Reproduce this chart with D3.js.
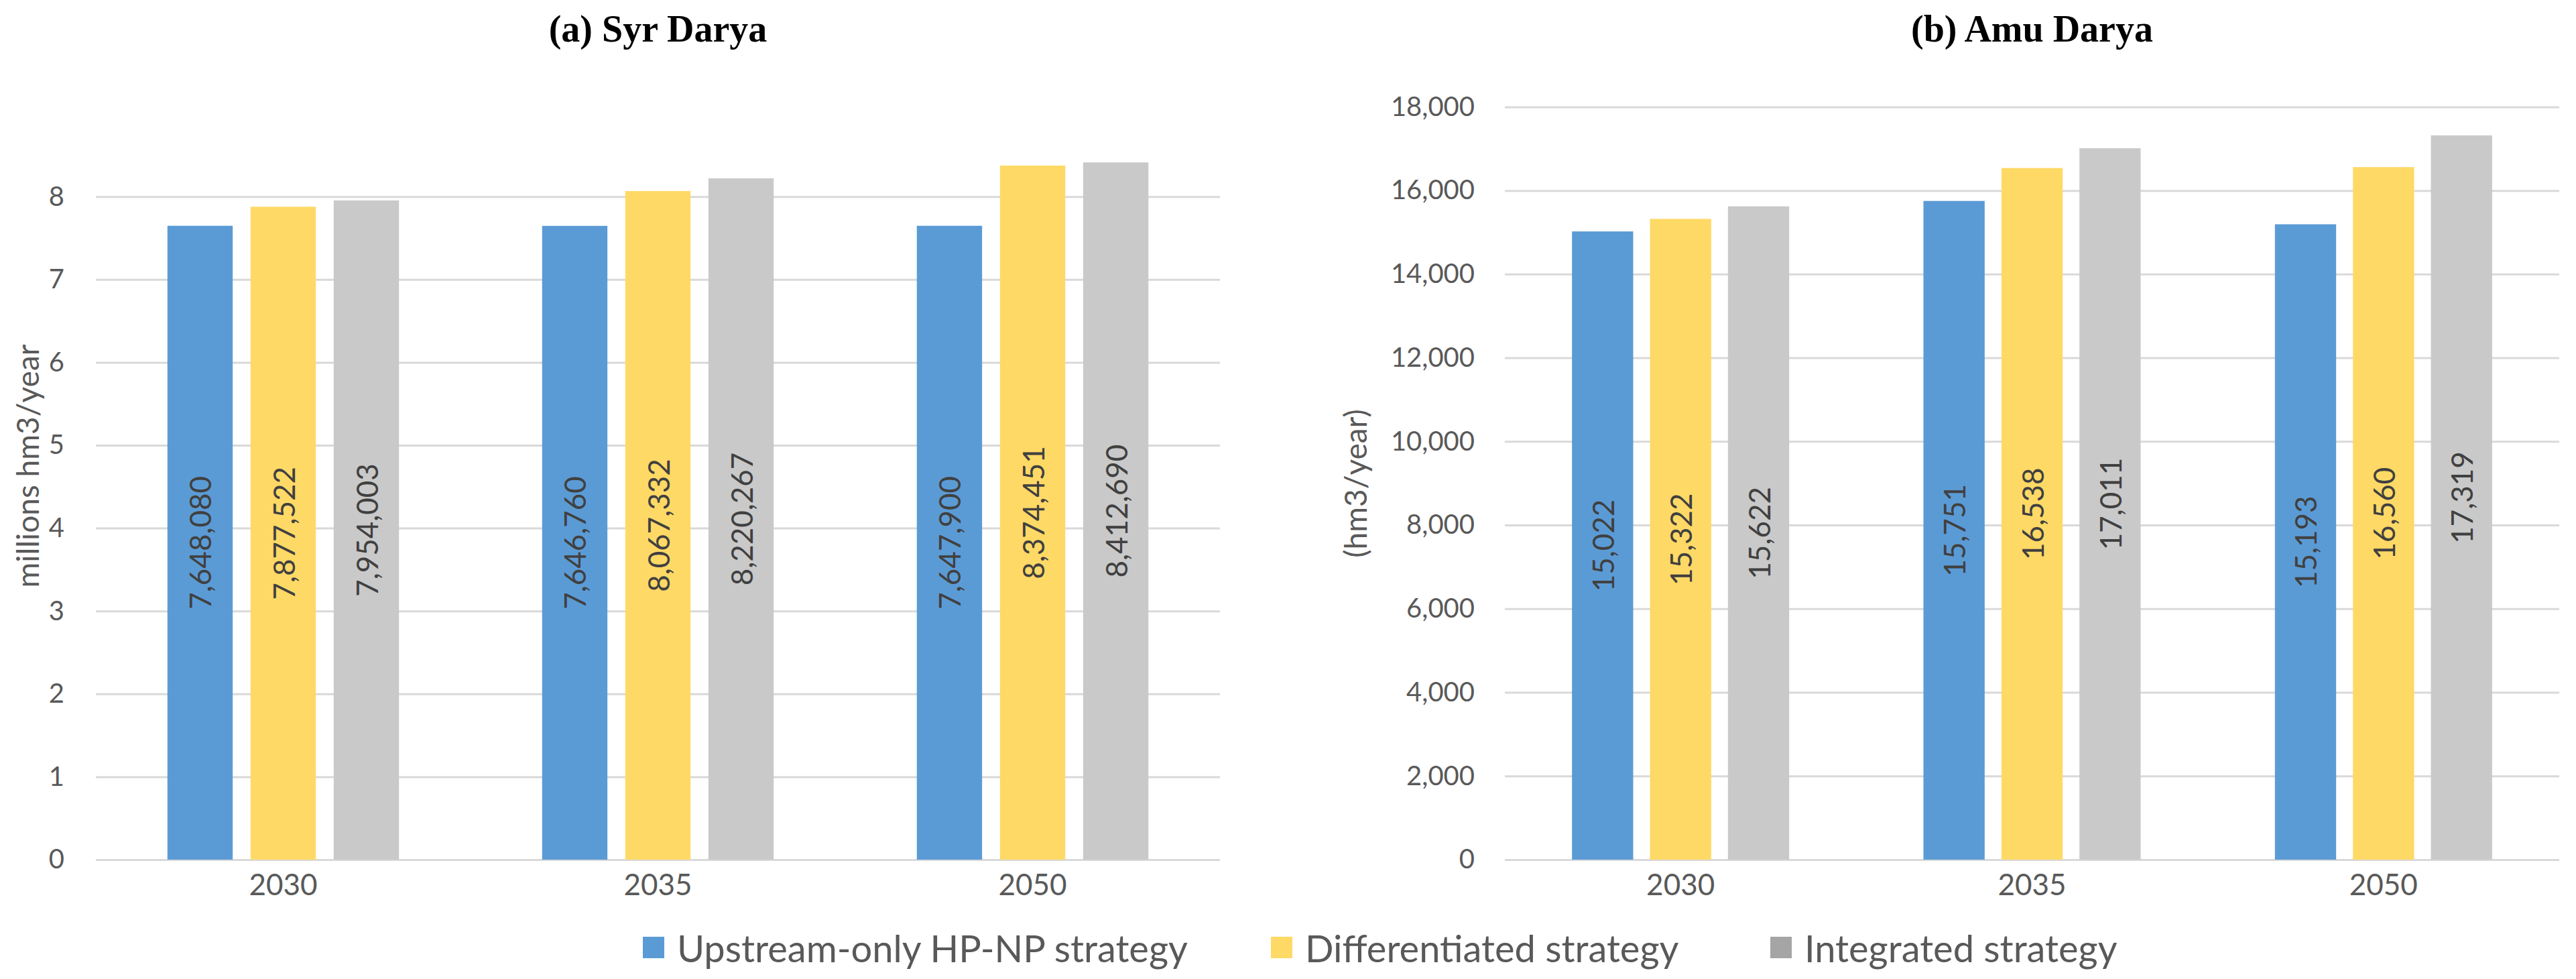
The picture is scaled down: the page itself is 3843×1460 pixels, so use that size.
<!DOCTYPE html>
<html>
<head>
<meta charset="utf-8">
<script src="https://cdn.jsdelivr.net/npm/d3@7"></script>
<style>
    body { margin: 0; background: #ffffff; }
    svg { display: block; }
</style>
</head>
<body>
<script>
// Categories and series
const years = ["2030", "2035", "2050"];
const strategies = ["Upstream-only HP-NP strategy", "Differentiated strategy", "Integrated strategy"];

// (a) Syr Darya, hm3/year
const syrUpstream = [7648080, 7646760, 7647900];
const syrDifferentiated = [7877522, 8067332, 8374451];
const syrIntegrated = [7954003, 8220267, 8412690];
const syrTicks = [0, 1, 2, 3, 4, 5, 6, 7, 8]; // millions

// (b) Amu Darya, hm3/year
const amuUpstream = [15022, 15751, 15193];
const amuDifferentiated = [15322, 16538, 16560];
const amuIntegrated = [15622, 17011, 17319];
const amuTicks = [0, 2000, 4000, 6000, 8000, 10000, 12000, 14000, 16000, 18000];

const barColors = ["#5B9BD5", "#FFD966", "#C9C9C9"];
const legendColors = ["#5B9BD5", "#FFD966", "#A5A5A5"];

const width = 3843;
const height = 1460;
const sansFont = "Lato, 'Open Sans', sans-serif";

/**
 * Initialize the root SVG.
 */
function initSVG() {
    d3.select("body")
        .append("svg")
        .attr("id", "rootDisplay")
        .attr("width", width)
        .attr("height", height);
    d3.select("#rootDisplay").append("rect")
        .attr("width", width)
        .attr("height", height)
        .attr("fill", "#ffffff");
}

/**
 * Draw one clustered bar chart panel.
 */
function drawPanel(opts) {
    const plotW = opts.right - opts.left;
    const panel = d3.select("#rootDisplay")
        .append("g")
        .attr("id", opts.id)
        .attr("transform", `translate(${opts.left},0)`);

    const x0 = d3.scaleBand()
        .domain(years)
        .range([0, plotW])
        .paddingInner(0.382)
        .paddingOuter(0.191);
    const x1 = d3.scaleBand()
        .domain(strategies)
        .range([0, x0.bandwidth()])
        .paddingInner(0.215);
    const y = d3.scaleLinear()
        .domain(opts.domain)
        .range([opts.bottom, opts.top]);

    // Gridlines + tick labels
    const yAxis = panel.append("g")
        .attr("class", "y-axis")
        .call(d3.axisLeft(y)
            .tickValues(opts.ticks)
            .tickSize(-plotW)
            .tickPadding(opts.tickPad)
            .tickFormat(opts.tickFormat));
    yAxis.select(".domain").remove();
    yAxis.selectAll(".tick line")
        .attr("stroke", "#D9D9D9")
        .attr("stroke-width", 3);
    yAxis.selectAll(".tick text")
        .attr("fill", "#595959")
        .style("font-family", sansFont)
        .style("font-size", "40px");

    // Category labels
    const xAxis = panel.append("g")
        .attr("class", "x-axis")
        .attr("transform", `translate(0,${opts.bottom})`)
        .call(d3.axisBottom(x0).tickSize(0).tickPadding(22));
    xAxis.select(".domain").remove();
    xAxis.selectAll(".tick text")
        .attr("fill", "#595959")
        .style("font-family", sansFont)
        .style("font-size", "44px");

    // Bars
    const rows = years.map((yr, i) => ({
        year: yr,
        values: opts.series.map((s, j) => ({ key: strategies[j], value: s[i], color: barColors[j] }))
    }));
    const groups = panel.append("g")
        .selectAll("g")
        .data(rows)
        .join("g")
        .attr("transform", d => `translate(${x0(d.year)},0)`);
    groups.selectAll("rect")
        .data(d => d.values)
        .join("rect")
        .attr("x", d => x1(d.key))
        .attr("y", d => y(d.value / opts.divisor))
        .attr("width", x1.bandwidth())
        .attr("height", d => y(0) - y(d.value / opts.divisor))
        .attr("fill", d => d.color);

    // Rotated value labels in the middle of each bar
    groups.selectAll("text.value")
        .data(d => d.values)
        .join("text")
        .attr("class", "value")
        .attr("transform", d => {
            const cx = x1(d.key) + x1.bandwidth() / 2;
            const cy = (y(d.value / opts.divisor) + y(0)) / 2;
            return `translate(${cx},${cy}) rotate(-90)`;
        })
        .attr("text-anchor", "middle")
        .attr("dominant-baseline", "central")
        .attr("fill", "#404040")
        .style("font-family", sansFont)
        .style("font-size", "44px")
        .text(d => d3.format(",")(d.value));

    // Axis title
    panel.append("text")
        .attr("transform", `translate(${opts.axisTitleX - opts.left},${opts.axisTitleY}) rotate(-90)`)
        .attr("text-anchor", "middle")
        .attr("dominant-baseline", "central")
        .attr("fill", "#595959")
        .style("font-family", sansFont)
        .style("font-size", "46px")
        .text(opts.axisTitle);

    // Panel title
    panel.append("text")
        .attr("x", plotW / 2)
        .attr("y", 62)
        .attr("text-anchor", "middle")
        .attr("fill", "#000000")
        .style("font-family", "'Liberation Serif', 'DejaVu Serif', serif")
        .style("font-weight", "bold")
        .style("font-size", "56px")
        .text(opts.title);
}

/**
 * Shared legend under both panels.
 */
function drawLegend() {
    // left edge of each legend entry
    const entryX = [959, 1896, 2641];
    const legend = d3.select("#rootDisplay")
        .append("g")
        .attr("id", "legend")
        .attr("transform", "translate(0,1413)");
    const entries = legend.selectAll("g")
        .data(strategies)
        .join("g")
        .attr("transform", (d, i) => `translate(${entryX[i]},0)`);
    entries.append("rect")
        .attr("y", -16)
        .attr("width", 32)
        .attr("height", 32)
        .attr("fill", (d, i) => legendColors[i]);
    entries.append("text")
        .attr("x", 51)
        .attr("dominant-baseline", "central")
        .attr("fill", "#595959")
        .style("font-family", sansFont)
        .style("font-size", "56px")
        .text(d => d);
}

initSVG();
drawPanel({
    id: "syrDarya",
    title: "(a) Syr Darya",
    axisTitle: "millions hm3/year",
    left: 143, right: 1820, top: 169.6, bottom: 1282,
    domain: [0, 9], ticks: syrTicks, divisor: 1e6,
    tickPad: 47, tickFormat: d3.format("d"),
    series: [syrUpstream, syrDifferentiated, syrIntegrated],
    axisTitleX: 40, axisTitleY: 695
});
drawPanel({
    id: "amuDarya",
    title: "(b) Amu Darya",
    axisTitle: "(hm3/year)",
    left: 2245, right: 3818, top: 159.4, bottom: 1282,
    domain: [0, 18000], ticks: amuTicks, divisor: 1,
    tickPad: 45, tickFormat: d3.format(","),
    series: [amuUpstream, amuDifferentiated, amuIntegrated],
    axisTitleX: 2021, axisTitleY: 721
});
drawLegend();
</script>
</body>
</html>
